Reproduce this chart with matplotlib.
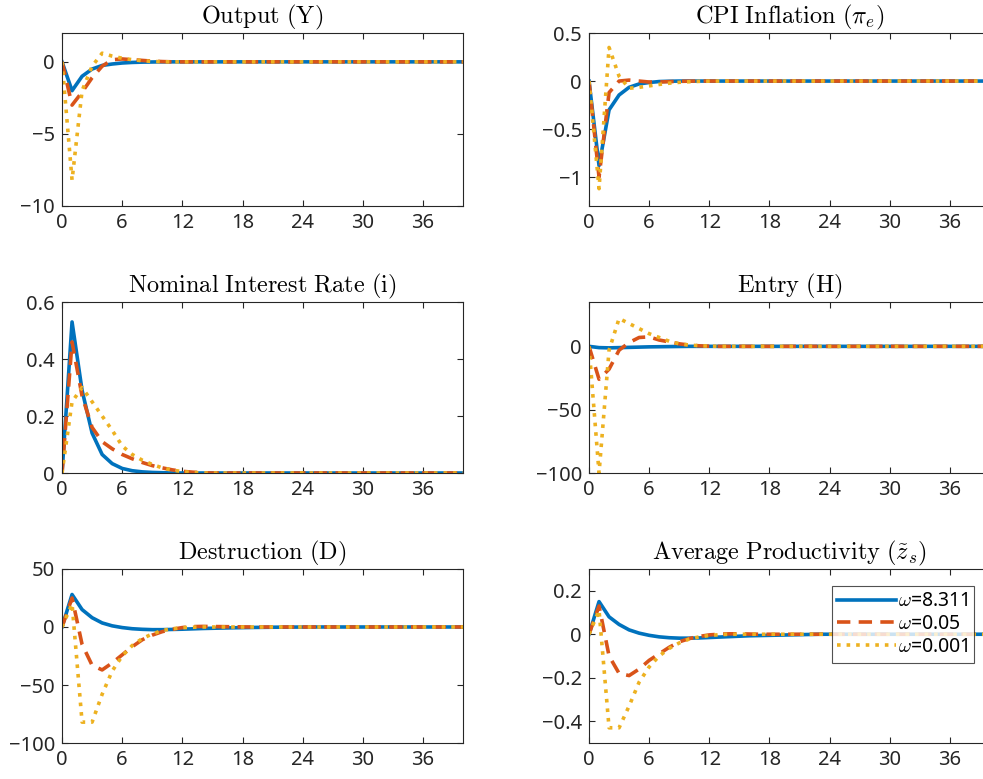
import numpy as np
import matplotlib
matplotlib.use('Agg')
from matplotlib import pyplot as plt

plt.rcParams['font.family'] = ['Noto Sans', 'DejaVu Sans']
plt.rcParams['mathtext.fontset'] = 'cm'

T = 41
periods = np.arange(T)


def pad(v):
    # the rest of each response is flat at zero
    return np.array(v + [0.0] * (T - len(v)))


# Output (Y)
y_hi = pad([0, -2.0, -1.0, -0.5, -0.25, -0.15, -0.08, -0.04, -0.02, -0.01])
y_mid = pad([0, -3.0, -2.1, -1.1, -0.3, 0.15, 0.2, 0.15, 0.1, 0.05, 0.02])
y_lo = pad([0, -8.2, -2.0, -0.3, 0.6, 0.4, 0.25, 0.15, 0.08, 0.03, 0.01])

# CPI inflation
pi_hi = pad([0, -0.88, -0.3, -0.145, -0.065, -0.03, -0.015, -0.005, -0.002])
pi_mid = pad([0, -1.0, -0.12, 0.0, 0.01, 0.0, -0.01, -0.01, -0.006, -0.003, -0.001])
pi_lo = pad([0, -1.12, 0.35, 0.05, -0.075, -0.065, -0.05, -0.035, -0.022, -0.013,
             -0.007, -0.003, -0.001])

# Nominal interest rate
i_hi = pad([0, 0.53, 0.29, 0.14, 0.065, 0.033, 0.016, 0.008, 0.004, 0.002, 0.001])
i_mid = pad([0, 0.46, 0.27, 0.16, 0.11, 0.085, 0.065, 0.05, 0.037, 0.026, 0.018,
             0.011, 0.006, 0.003, 0.001])
i_lo = pad([0, 0.25, 0.30, 0.25, 0.2, 0.15, 0.095, 0.065, 0.045, 0.03, 0.018,
            0.01, 0.005, 0.002])

# Entry
h_hi = pad([0, -1.0, -1.2, -1.0, -0.8, -0.6, -0.4, -0.3, -0.2, -0.1])
h_mid = pad([0, -26, -18, -3, 3, 7, 7.5, 5, 3.5, 2, 1, 0.4, 0.1])
h_lo = pad([0, -100, -3, 22, 18, 14, 10, 7, 4, 2, 1, 0.5, 0.2])

# Destruction
d_hi = pad([0, 28, 15, 8, 3.5, 1, -0.5, -1.5, -2, -2.3, -2.3, -2.1, -1.9, -1.6,
            -1.3, -1.1, -0.9, -0.7, -0.55, -0.4, -0.3, -0.2, -0.15, -0.1, -0.05])
d_mid = pad([0, 25, -15, -33, -37, -31, -24, -17, -11, -7, -4, -2, -0.5, 0.3, 0.5,
             0.4, 0.3, 0.2, 0.1])
d_lo = pad([0, 20, -82, -82, -58, -38, -25, -16, -10, -6, -3, -1.5, -0.6, -0.2])

# Average productivity
z_hi = pad([0, 0.15, 0.08, 0.045, 0.02, 0.005, -0.005, -0.012, -0.016, -0.018,
            -0.018, -0.017, -0.015, -0.013, -0.011, -0.009, -0.007, -0.006,
            -0.005, -0.004, -0.003, -0.002, -0.001])
z_mid = pad([0, 0.13, -0.1, -0.18, -0.19, -0.16, -0.12, -0.09, -0.06, -0.035,
             -0.02, -0.01, -0.003, 0.0, 0.002, 0.002, 0.001])
z_lo = pad([0, 0.11, -0.43, -0.43, -0.33, -0.22, -0.15, -0.1, -0.065, -0.04,
            -0.022, -0.012, -0.006, -0.002])

titles = [r'$\mathrm{Output\ (Y)}$', r'$\mathrm{CPI\ Inflation\ (}\pi_e\mathrm{)}$',
          r'$\mathrm{Nominal\ Interest\ Rate\ (i)}$', r'$\mathrm{Entry\ (H)}$',
          r'$\mathrm{Destruction\ (D)}$',
          r'$\mathrm{Average\ Productivity\ (}\tilde{z}_s\mathrm{)}$']
series = [(y_hi, y_mid, y_lo), (pi_hi, pi_mid, pi_lo), (i_hi, i_mid, i_lo),
          (h_hi, h_mid, h_lo), (d_hi, d_mid, d_lo), (z_hi, z_mid, z_lo)]
ylims = [(-10, 2), (-1.3, 0.5), (0, 0.6), (-100, 35), (-100, 50), (-0.5, 0.3)]
yticks = [[-10, -5, 0], [-1, -0.5, 0, 0.5], [0, 0.2, 0.4, 0.6], [-100, -50, 0],
          [-100, -50, 0, 50], [-0.4, -0.2, 0, 0.2]]
labels = [r'$\omega$=8.311', r'$\omega$=0.05', r'$\omega$=0.001']
colors = ['#0072BD', '#D95319', '#EDB120']

fig = plt.figure(figsize=(9.83, 7.79), dpi=100)
lefts = [0.0631, 0.5992]
bottoms = [0.7356, 0.3928, 0.0462]
heights = [0.222, 0.2195, 0.2234]

for k in range(6):
    r, c = k // 2, k % 2
    ax = fig.add_axes([lefts[c], bottoms[r], 0.408, heights[r]])
    hi, mid, lo = series[k]
    ax.plot(periods, hi, color=colors[0], lw=2.6, label=labels[0])
    ax.plot(periods, mid, color=colors[1], lw=2.6, dashes=(3.7, 2.3), label=labels[1])
    ax.plot(periods, lo, color=colors[2], lw=2.6, linestyle=':', label=labels[2])
    ax.set_xlim(0, 40)
    ax.set_ylim(*ylims[k])
    ax.set_xticks(range(0, 37, 6))
    ax.set_yticks(yticks[k])
    ax.set_yticklabels([('%g' % v).replace('-', '\u2212') for v in yticks[k]])
    ax.tick_params(direction='in', top=True, right=True, length=4,
                   labelsize=14.5, colors='#262626', pad=5)
    for s in ax.spines.values():
        s.set_color('#262626')
        s.set_linewidth(0.8)
    ax.set_title(titles[k], fontsize=17.5, pad=7)
    if k == 5:
        leg = ax.legend(loc='upper left', bbox_to_anchor=(0.605, 0.905), fontsize=14,
                        frameon=True, fancybox=False, edgecolor='#262626',
                        handlelength=3.0, handletextpad=0.1, borderpad=0.3,
                        labelspacing=0.15, borderaxespad=0)
        leg.get_frame().set_linewidth(0.8)

fig.savefig('out.png', dpi=100)
